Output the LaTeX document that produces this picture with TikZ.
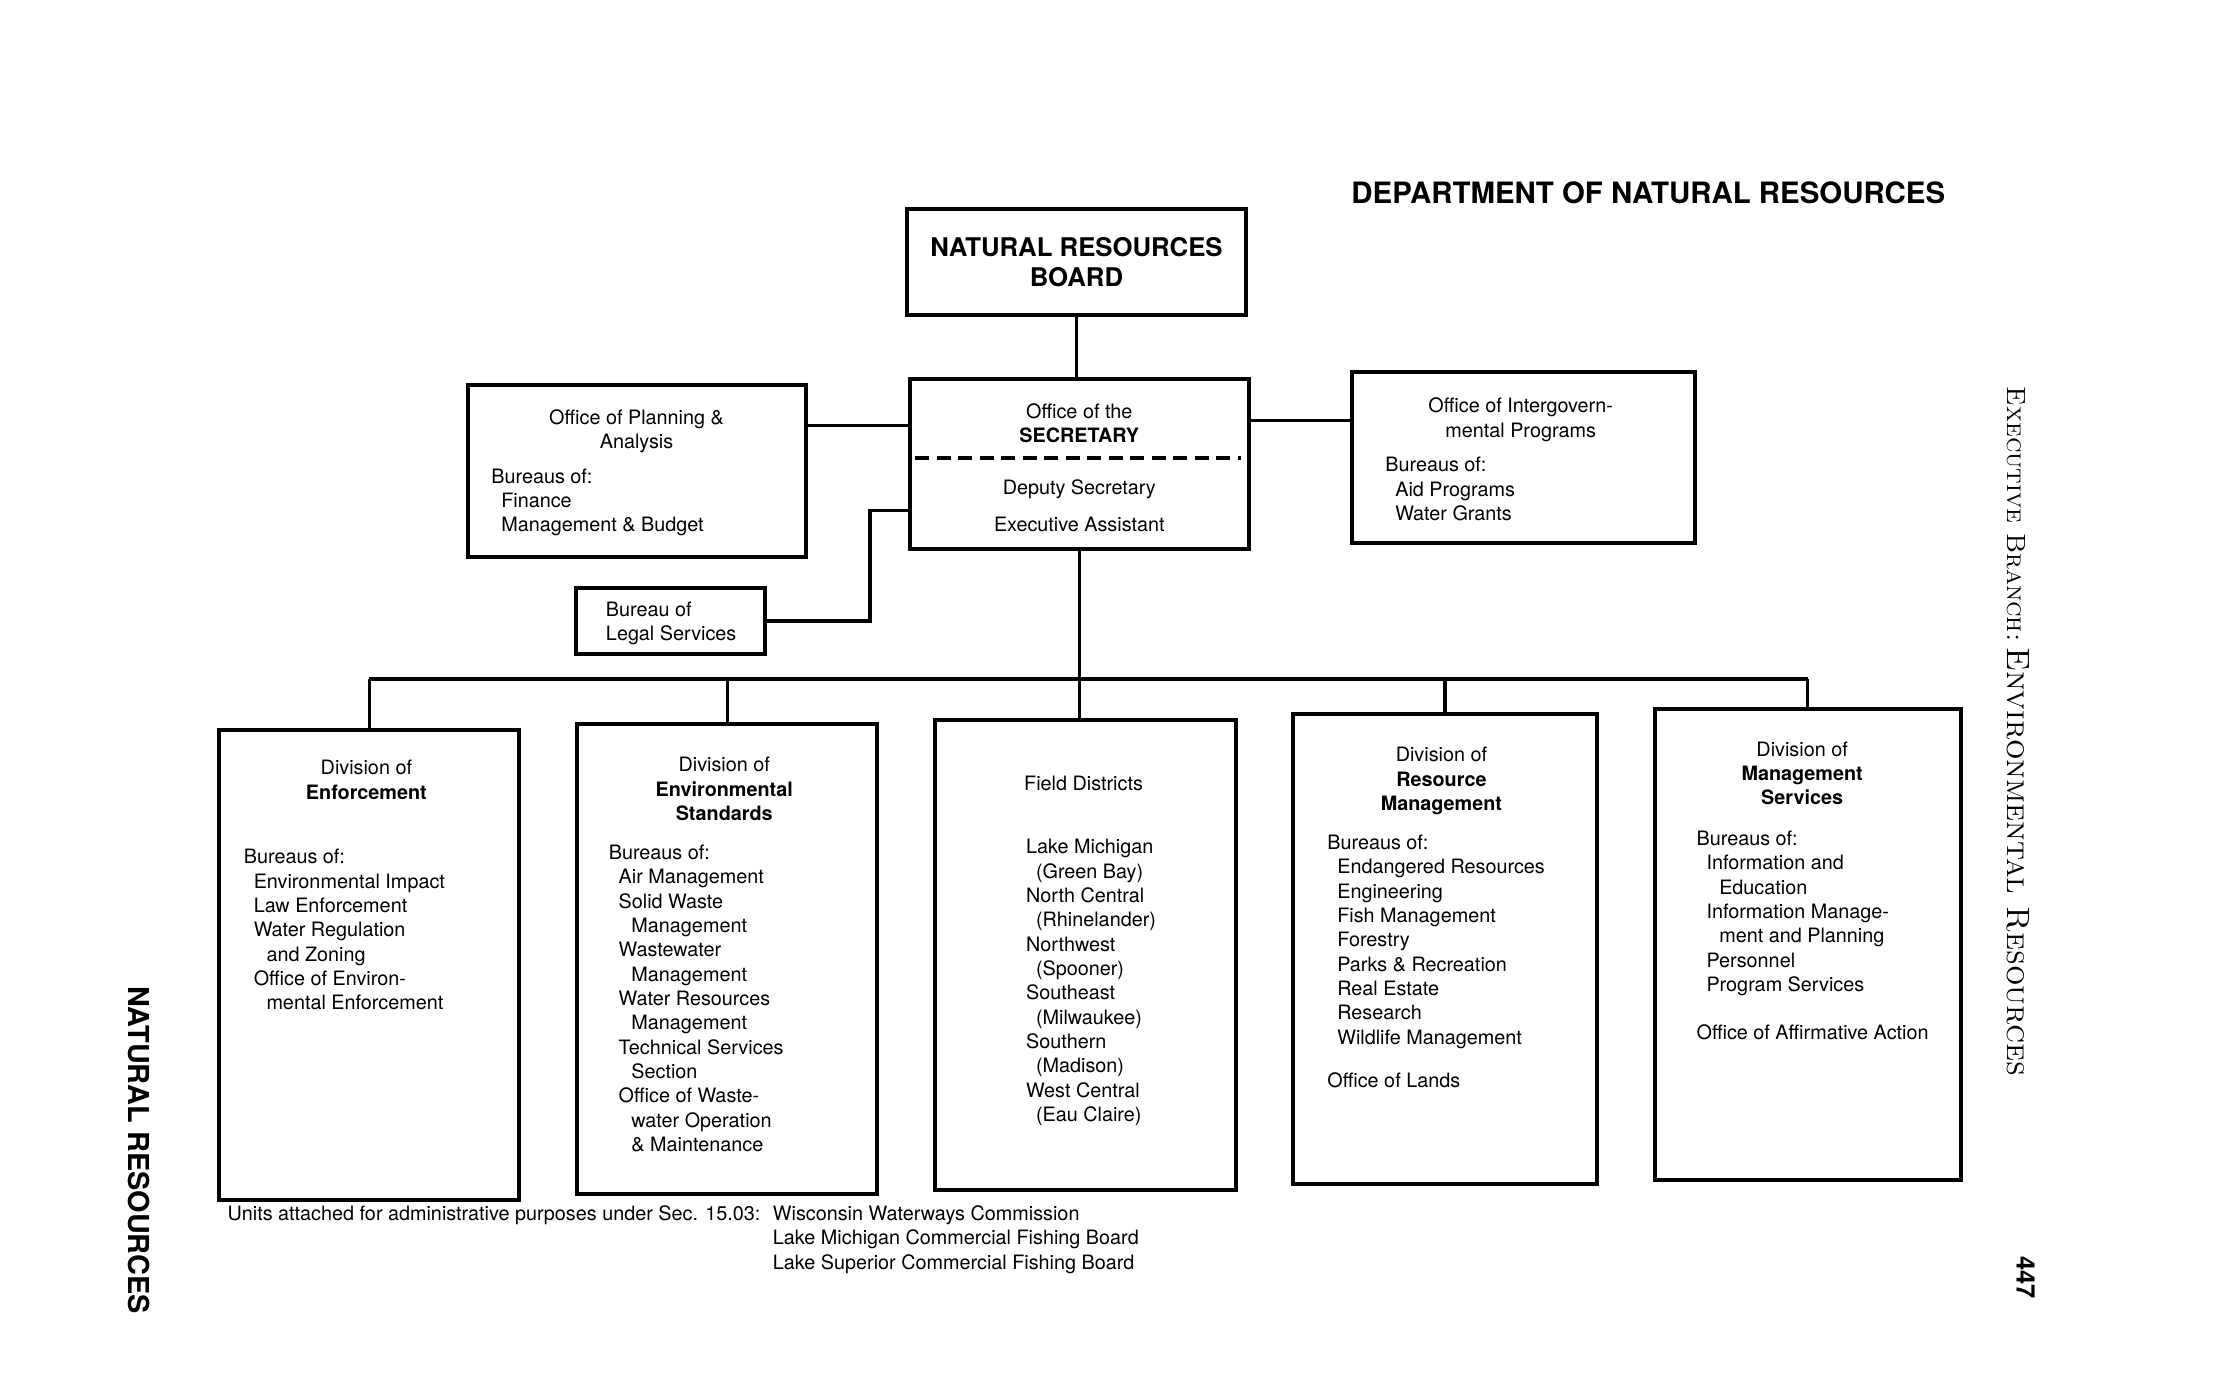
\documentclass[tikz,border=0pt]{standalone}
\usepackage{fontspec}
\newfontfamily\hv{TeX Gyre Heros}
\usetikzlibrary{fit}

\newcommand{\txt}{\hv\fontsize{7}{8.6}\selectfont}
\newcommand{\lone}{\hspace*{3.5pt}}
\newcommand{\ltwo}{\hspace*{8pt}}

\tikzset{
  box/.style={draw, line width=1.4pt, inner sep=0pt},
  wire/.style={line width=1.1pt},
  sepline/.style={line width=1.3pt, dash pattern=on 5pt off 2.6pt},
  head/.style={font=\txt, align=center, inner sep=0pt, anchor=north},
  list/.style={font=\txt, align=left, inner sep=0pt, anchor=north west},
}

\begin{document}
\begin{tikzpicture}[x=0.5pt, y=-0.5pt]
\useasboundingbox (0,0) rectangle (1568,975.6);

% page titles
\node[font=\hv\bfseries\fontsize{10.4}{12}\selectfont, anchor=west, inner sep=0pt] (dept) at (955,136) {DEPARTMENT OF NATURAL RESOURCES};
\node[rotate=-90, font=\hv\bfseries\fontsize{10.2}{12}\selectfont, inner sep=0pt] (running) at (98,813) {NATURAL RESOURCES};
\node[rotate=-90, anchor=west, inner sep=0pt] (branch) at (1427,273) {{\fontsize{9.3}{11}\selectfont\textsc{Executive Branch:}}\hspace{2pt}{\fontsize{11.4}{13}\selectfont\textsc{Environmental Resources}}};
\node[rotate=-90, font=\hv\bfseries\fontsize{9}{10}\selectfont, inner sep=0pt] (page) at (1432,903) {447};

% board and secretary
\node[box, fit={(641,148) (881,223)}] (nrb) {};
\node[font=\hv\bfseries\fontsize{9.1}{10.5}\selectfont, align=center, inner sep=0pt] (nrb-t) at (nrb.center) {NATURAL RESOURCES\\BOARD};

\node[box, fit={(643,268) (883,388)}] (sec) {};
\node[head] (sec-t) at (763,285) {Office of the\\\textbf{SECRETARY}};
\draw[sepline] (647,324) -- (877,324);
\node[head] (sec-d) at (763,339) {Deputy Secretary\\[4.4pt]Executive Assistant};

% staff offices
\node[box, fit={(331,272) (570,394)}] (plan) {};
\node[head] (plan-h) at (450,289) {Office of Planning \&\\Analysis};
\node[list] (plan-l) at (347,331) {Bureaus of:\\ \lone Finance\\ \lone Management \& Budget};

\node[box, fit={(956,263) (1198,384)}] (igov) {};
\node[head] (igov-h) at (1075,281) {Office of Intergovern-\\mental Programs};
\node[list] (igov-l) at (979,323) {Bureaus of:\\ \lone Aid Programs\\ \lone Water Grants};

\node[box, fit={(407,416) (541,462)}] (legal) {};
\node[list] (legal-t) at (428,425) {Bureau of\\Legal Services};

% divisions
\node[box, fit={(155,516) (367,848)}] (enf) {};
\node[head] (enf-h) at (259,537) {Division of\\\textbf{Enforcement}};
\node[list] (enf-l) at (172,600) {Bureaus of:\\ \lone Environmental Impact\\ \lone Law Enforcement\\ \lone Water Regulation\\ \ltwo and Zoning\\ \lone Office of Environ-\\ \ltwo mental Enforcement};

\node[box, fit={(408,512) (620,844)}] (env) {};
\node[head] (env-h) at (512,535) {Division of\\\textbf{Environmental}\\\textbf{Standards}};
\node[list] (env-l) at (430,597) {Bureaus of:\\ \lone Air Management\\ \lone Solid Waste\\ \ltwo Management\\ \lone Wastewater\\ \ltwo Management\\ \lone Water Resources\\ \ltwo Management\\ \lone Technical Services\\ \ltwo Section\\ \lone Office of Waste-\\ \ltwo water Operation\\ \ltwo \& Maintenance};

\node[box, fit={(661,509) (874,841)}] (fld) {};
\node[head] (fld-h) at (766,548) {Field Districts};
\node[list] (fld-l) at (725,593) {Lake Michigan\\ \lone (Green Bay)\\ North Central\\ \lone (Rhinelander)\\ Northwest\\ \lone (Spooner)\\ Southeast\\ \lone (Milwaukee)\\ Southern\\ \lone (Madison)\\ West Central\\ \lone (Eau Claire)};

\node[box, fit={(914,505) (1129,837)}] (res) {};
\node[head] (res-h) at (1019,528) {Division of\\\textbf{Resource}\\\textbf{Management}};
\node[list] (res-l) at (938,590) {Bureaus of:\\ \lone Endangered Resources\\ \lone Engineering\\ \lone Fish Management\\ \lone Forestry\\ \lone Parks \& Recreation\\ \lone Real Estate\\ \lone Research\\ \lone Wildlife Management\\[6.5pt] Office of Lands};

\node[box, fit={(1170,501) (1386,834)}] (mgt) {};
\node[head] (mgt-h) at (1274,524) {Division of\\\textbf{Management}\\\textbf{Services}};
\node[list] (mgt-l) at (1199,587) {Bureaus of:\\ \lone Information and\\ \ltwo Education\\ \lone Information Manage-\\ \ltwo ment and Planning\\ \lone Personnel\\ \lone Program Services\\[8.5pt] Office of Affirmative Action};

% attached units
\node[list] (attached) at (546,852) {Wisconsin Waterways Commission\\Lake Michigan Commercial Fishing Board\\Lake Superior Commercial Fishing Board};
\node[font=\txt, anchor=north east, inner sep=0pt] (units) at ([xshift=-4pt]attached.north west) {Units attached for administrative purposes under Sec. 15.03:};

% connections
\coordinate (legbend) at (615,361);
\coordinate (bus) at (765,480);
\draw[wire] (nrb.south) -- (nrb.south |- sec.north);
\draw[wire] (plan.east |- 0,301) -- (sec.west |- 0,301);
\draw[wire] (sec.east |- 0,297) -- (igov.west |- 0,297);
\draw[wire] (legal.east) -| (legbend) -- (sec.west |- legbend);
\draw[wire] (sec.south) -- (sec.south |- fld.north);
\draw[wire] (enf.north |- bus) -- (mgt.north |- bus);
\foreach \d in {enf,env,res,mgt}
  \draw[wire] (\d.north) -- (\d.north |- bus);

\end{tikzpicture}
\end{document}
